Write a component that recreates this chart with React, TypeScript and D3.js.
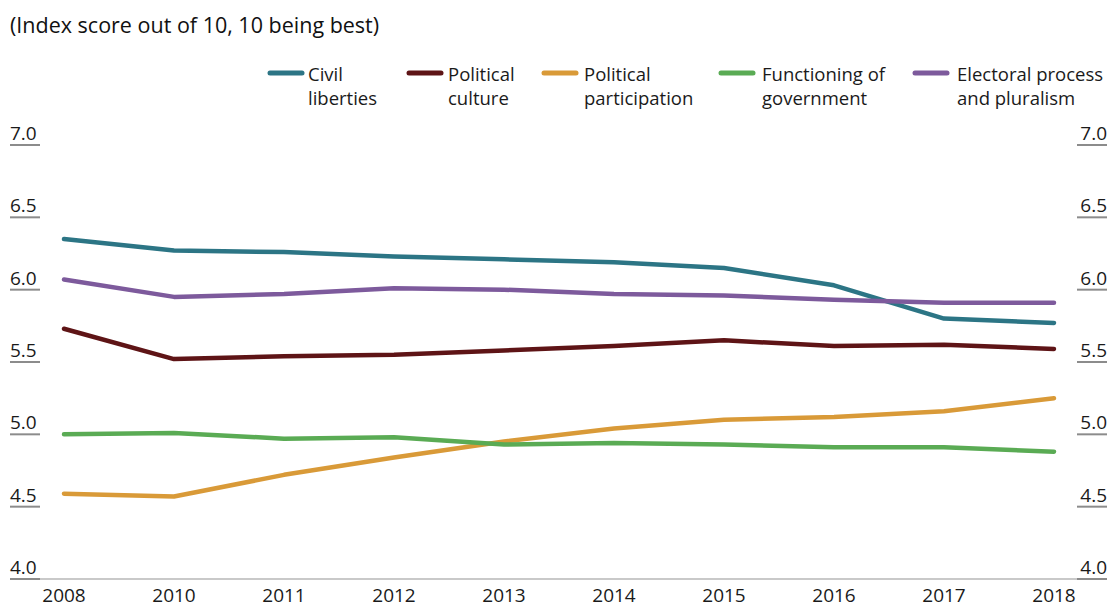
import React from "react";
import * as d3 from "d3";

const years = ["2008", "2010", "2011", "2012", "2013", "2014", "2015", "2016", "2017", "2018"];
const civilLiberties = [6.35, 6.27, 6.26, 6.23, 6.21, 6.19, 6.15, 6.03, 5.80, 5.77];
const politicalCulture = [5.73, 5.52, 5.54, 5.55, 5.58, 5.61, 5.65, 5.61, 5.62, 5.59];
const politicalParticipation = [4.59, 4.57, 4.72, 4.84, 4.95, 5.04, 5.10, 5.12, 5.16, 5.25];
const functioningOfGovernment = [5.00, 5.01, 4.97, 4.98, 4.93, 4.94, 4.93, 4.91, 4.91, 4.88];
const electoralProcess = [6.07, 5.95, 5.97, 6.01, 6.00, 5.97, 5.96, 5.93, 5.91, 5.91];
const yTicks = [4.0, 4.5, 5.0, 5.5, 6.0, 6.5, 7.0];
const title = "(Index score out of 10, 10 being best)";

const series = [
  { name: ["Civil", "liberties"], values: civilLiberties, color: "#2c7585", lx: 270, tx: 308 },
  { name: ["Political", "culture"], values: politicalCulture, color: "#5e1416", lx: 409, tx: 448 },
  { name: ["Political", "participation"], values: politicalParticipation, color: "#d99a38", lx: 544, tx: 584 },
  { name: ["Functioning of", "government"], values: functioningOfGovernment, color: "#5aab54", lx: 721, tx: 762 },
  { name: ["Electoral process", "and pluralism"], values: electoralProcess, color: "#7d5a9c", lx: 915, tx: 957 },
];

const W = 1110;
const H = 609;
const FONT = "'Open Sans', 'Noto Sans', sans-serif";

export default function App() {
  const x = d3.scalePoint<string>().domain(years).range([64, 1054]);
  const y = d3.scaleLinear().domain([4, 7]).range([579, 145]);
  const line = d3
    .line<number>()
    .x((_, i) => x(years[i]) as number)
    .y((d) => y(d));

  return (
    <svg
      width={W}
      height={H}
      viewBox={`0 0 ${W} ${H}`}
      style={{ position: "absolute", left: 0, top: 0, background: "#fff" }}
      fontFamily={FONT}
    >
      <text x={10} y={33} fontSize={21.5} fill="#111">{title}</text>

      {/* legend */}
      {series.map((s) => (
        <g key={s.name.join(" ")}>
          <line x1={s.lx} x2={s.lx + 32} y1={73} y2={73} stroke={s.color} strokeWidth={5} strokeLinecap="round" />
          <text x={s.tx} y={81} fontSize={18.5} fill="#1a1a1a">{s.name[0]}</text>
          <text x={s.tx} y={105} fontSize={18.5} fill="#1a1a1a">{s.name[1]}</text>
        </g>
      ))}

      {/* baseline */}
      <line x1={10} x2={1107} y1={y(4)} y2={y(4)} stroke="#c9c9c9" strokeWidth={2} />

      {/* y ticks both sides */}
      {yTicks.map((t) => (
        <g key={t}>
          <text x={10} y={y(t) - 5} fontSize={19} fill="#1a1a1a">{t.toFixed(1)}</text>
          <line x1={10} x2={40} y1={y(t)} y2={y(t)} stroke="#8c8c8c" strokeWidth={2} />
          <text x={1107} y={y(t) - 5} fontSize={19} fill="#1a1a1a" textAnchor="end">{t.toFixed(1)}</text>
          <line x1={1077} x2={1107} y1={y(t)} y2={y(t)} stroke="#8c8c8c" strokeWidth={2} />
        </g>
      ))}

      {/* x labels */}
      {years.map((yr) => (
        <text key={yr} x={x(yr)} y={602} fontSize={19} fill="#1a1a1a" textAnchor="middle">{yr}</text>
      ))}

      {/* lines */}
      {series.map((s) => (
        <path
          key={s.name.join(" ")}
          d={line(s.values) || ""}
          fill="none"
          stroke={s.color}
          strokeWidth={4.5}
          strokeLinecap="round"
          strokeLinejoin="round"
        />
      ))}
    </svg>
  );
}
